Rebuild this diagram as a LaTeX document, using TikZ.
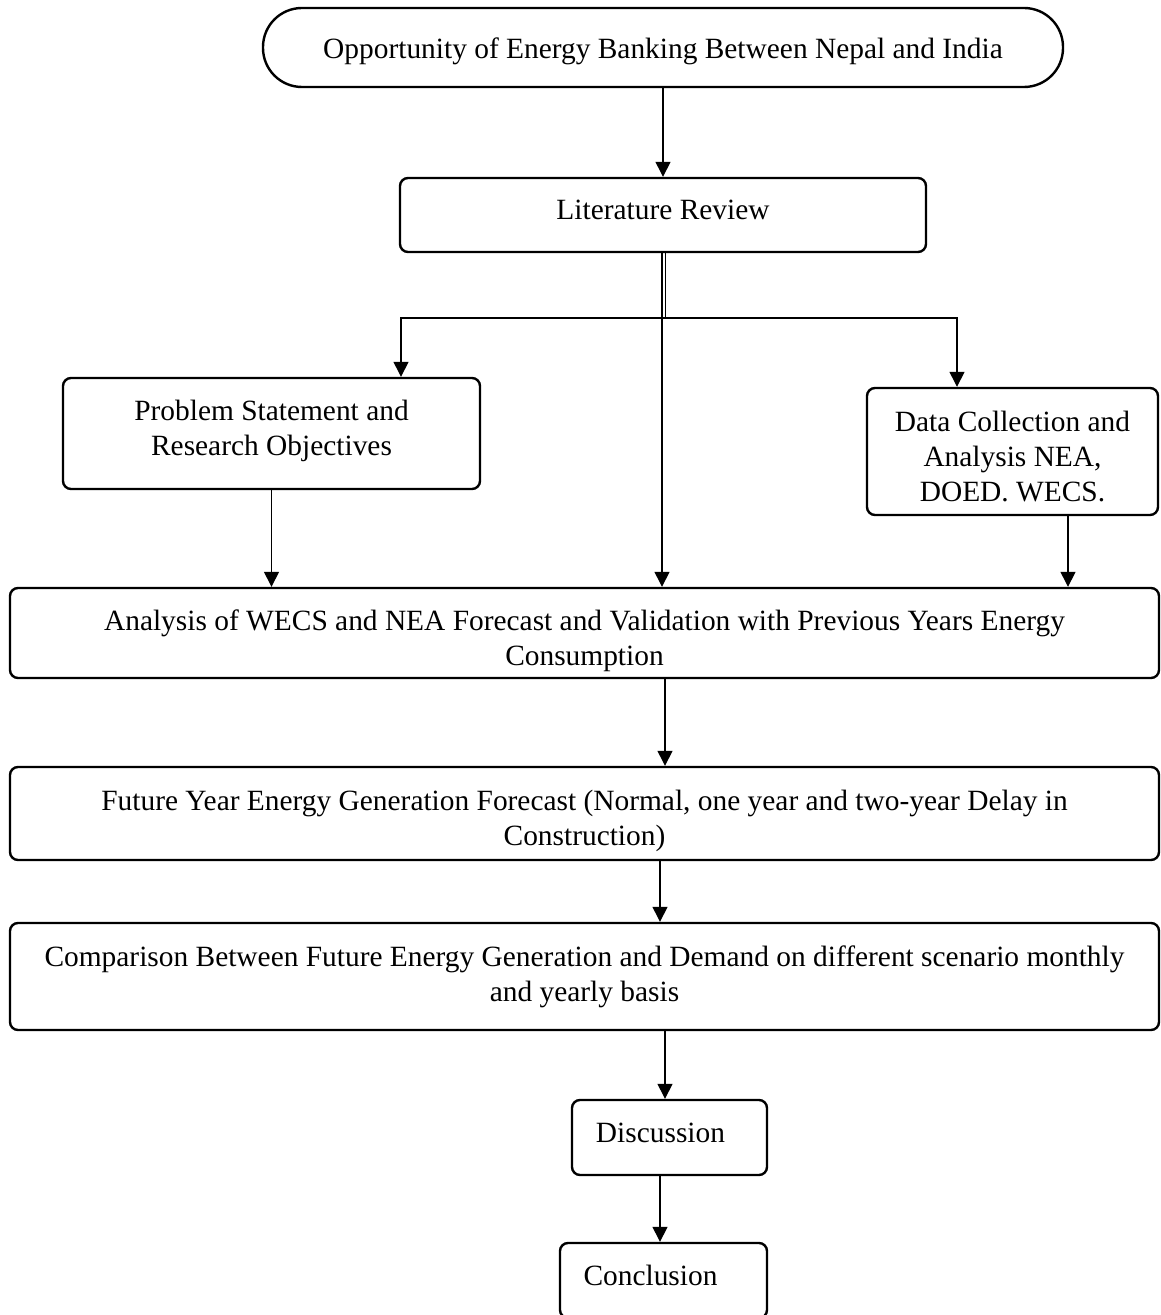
\documentclass[tikz,border=0pt]{standalone}
\usepackage{fontspec}
\setmainfont{Liberation Serif}
\usetikzlibrary{arrows.meta}
\begin{document}
\begin{tikzpicture}[x=0.5pt,y=-0.5pt,
  every node/.style={font=\fontsize{14.7}{17.5}\selectfont, align=center, inner sep=0pt},
  box/.style={draw, line width=1.2pt, rounded corners=4pt},
  stadium/.style={draw, line width=1.2pt, rounded corners=19.5pt},
  txt/.style 2 args={label={[yshift=#1]center:{#2}}},
  arr/.style={line width=0.7pt, -{Triangle[length=7.5pt,width=7.5pt]}},
  ln/.style={line width=0.7pt}]
\useasboundingbox (0,0) rectangle (1160,1315);
\node[stadium, minimum width=400pt, minimum height=39.5pt, txt={-2pt}{Opportunity of Energy Banking Between Nepal and India}] (top) at (663,47.5) {};
\node[box, minimum width=263pt, minimum height=37pt, txt={2.5pt}{Literature Review}] (LR) at (663,215) {};
\node[box, minimum width=208.5pt, minimum height=55.5pt, txt={1.5pt}{Problem Statement and\\Research Objectives}] (PS) at (271.5,433.5) {};
\node[box, minimum width=145.5pt, minimum height=63.5pt, txt={-2.5pt}{Data Collection and\\Analysis NEA,\\DOED. WECS.}] (DC) at (1012.5,451.5) {};
\node[box, minimum width=574.5pt, minimum height=45pt, txt={-4pt}{Analysis of WECS and NEA Forecast and Validation with Previous Years Energy\\Consumption}] (AN) at (584.5,633) {};
\node[box, minimum width=574.5pt, minimum height=46.5pt, txt={-3.5pt}{Future Year Energy Generation Forecast (Normal, one year and two-year Delay in\\Construction)}] (FU) at (584.5,813.5) {};
\node[box, minimum width=574.5pt, minimum height=53.5pt, txt={0pt}{Comparison Between Future Energy Generation and Demand on different scenario monthly\\and yearly basis}] (CO) at (584.5,976.5) {};
\node[box, minimum width=97.5pt, minimum height=37.5pt, txt={2.5pt}{\hspace*{-9pt}Discussion}] (DI) at (669.5,1137.5) {};
\node[box, minimum width=103.5pt, minimum height=37.5pt, txt={2.5pt}{\hspace*{-13pt}Conclusion}] (CL) at (663.5,1280.5) {};
\coordinate (split) at (665.5,318);
\coordinate (fanL) at (401,318);
\coordinate (fanR) at (957,318);
\draw[arr] (top.south) -- (LR.north);
\draw[ln] (LR.south -| split) -- (split);
\draw[arr] (split) -- (fanL) -- (fanL |- PS.north);
\draw[arr] (split) -- (fanR) -- (fanR |- DC.north);
\draw[arr] ([xshift=-0.5pt]LR.south) -- ([xshift=-0.5pt]LR.south |- AN.north);
\draw[arr] (PS.south) -- (PS.south |- AN.north);
\draw[arr] ([xshift=27.75pt]DC.south) -- ([xshift=27.75pt]DC.south |- AN.north);
\draw[arr] ([xshift=40.25pt]AN.south) -- ([xshift=40.25pt]AN.south |- FU.north);
\draw[arr] ([xshift=37.75pt]FU.south) -- ([xshift=37.75pt]FU.south |- CO.north);
\draw[arr] ([xshift=40.25pt]CO.south) -- ([xshift=40.25pt]CO.south |- DI.north);
\draw[arr] ([xshift=-4.75pt]DI.south) -- ([xshift=-4.75pt]DI.south |- CL.north);
\end{tikzpicture}
\end{document}
